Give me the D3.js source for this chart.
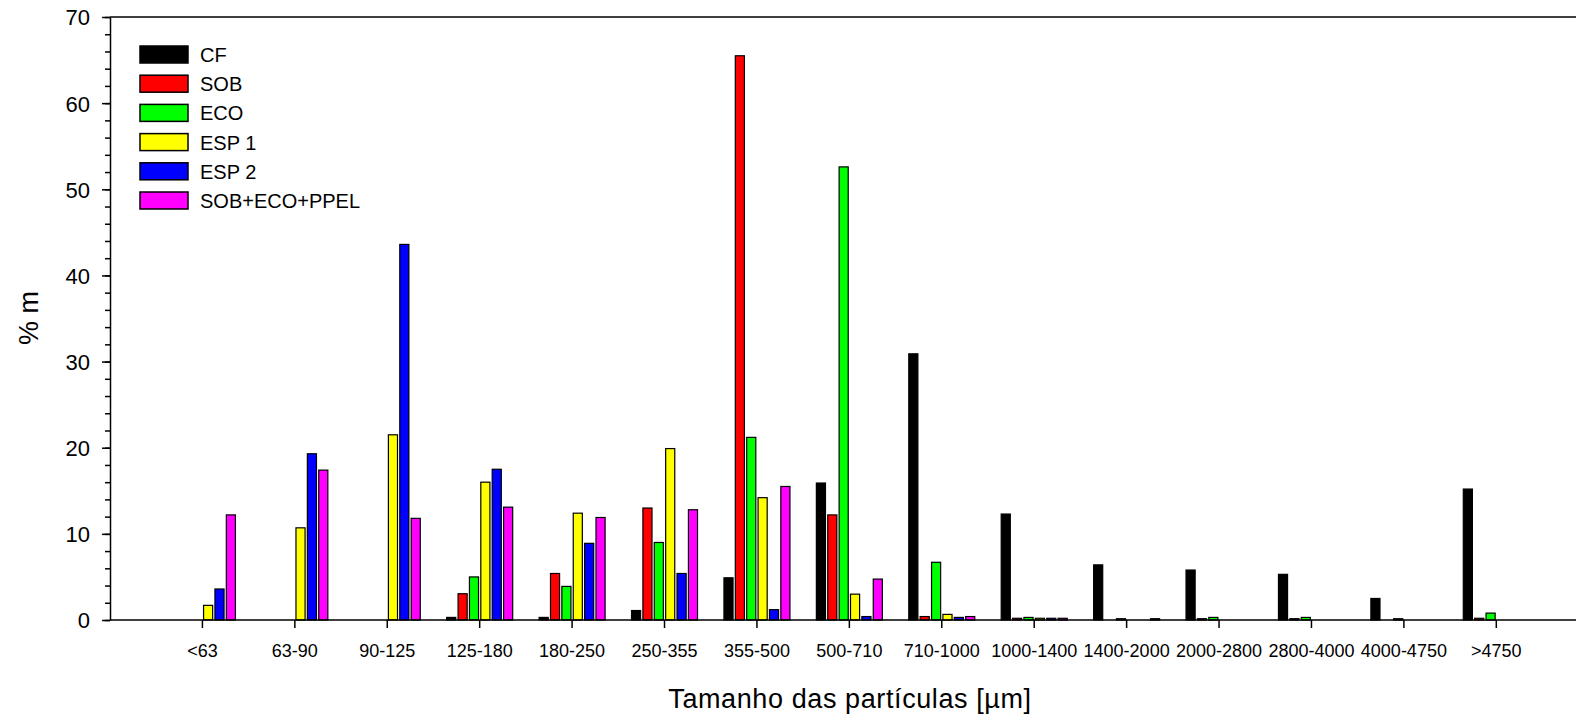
<!DOCTYPE html>
<html>
<head>
<meta charset="utf-8">
<script src="https://cdn.jsdelivr.net/npm/d3@7"></script>
<style>
    body { margin: 0; background: #fff; }
    svg { display: block; font-family: "Liberation Sans", Arial, sans-serif; }
    .axis path, .axis line { stroke: #000; stroke-width: 1.5; }
    .axis text { fill: #000; }
</style>
</head>
<body>
<div id="chart-container"></div>
<script>
// data
const categories = ["<63", "63-90", "90-125", "125-180", "180-250", "250-355", "355-500", "500-710",
    "710-1000", "1000-1400", "1400-2000", "2000-2800", "2800-4000", "4000-4750", ">4750"];
const seriesNames = ["CF", "SOB", "ECO", "ESP 1", "ESP 2", "SOB+ECO+PPEL"];
const seriesColors = ["#000000", "#ff0000", "#00ff00", "#ffff00", "#0000ff", "#ff00ff"];

// null = no bar drawn
const cfValues =   [null, null, null, 0.3, 0.3, 1.1, 4.9, 15.9, 30.9, 12.3, 6.4, 5.8, 5.3, 2.5, 15.2];
const sobValues =  [null, null, null, 3.05, 5.4, 13.0, 65.5, 12.2, 0.4, 0.2, null, 0.15, 0.15, null, 0.2];
const ecoValues =  [null, null, null, 5.0, 3.9, 9.0, 21.2, 52.6, 6.7, 0.3, 0.15, 0.3, 0.3, 0.15, 0.8];
const esp1Values = [1.7, 10.7, 21.5, 16.0, 12.4, 19.9, 14.2, 3.0, 0.65, 0.2, null, null, null, null, null];
const esp2Values = [3.6, 19.3, 43.6, 17.5, 8.9, 5.4, 1.2, 0.4, 0.3, 0.2, null, null, null, null, null];
const mixValues =  [12.2, 17.4, 11.8, 13.1, 11.9, 12.8, 15.5, 4.75, 0.4, 0.2, 0.15, null, null, null, null];

const yTicks = [0, 10, 20, 30, 40, 50, 60, 70];

// margin convention
const svgWidth = 1576,
    svgHeight = 721,
    margin = { top: 17, right: 0, bottom: 101, left: 110 },
    width = svgWidth - margin.left - margin.right,
    height = svgHeight - margin.top - margin.bottom;

const allSeries = [cfValues, sobValues, ecoValues, esp1Values, esp2Values, mixValues];

let svg = d3.select("#chart-container").append("svg")
    .attr("width", svgWidth)
    .attr("height", svgHeight);
let plotGroup = svg.append("g")
    .attr("transform", `translate(${margin.left}, ${margin.top})`);

// scales: one empty slot before the first group
const step = 92.42;
let xScale = d3.scaleBand()
    .domain(categories)
    .range([step / 2, step / 2 + step * categories.length])
    .padding(0);
let xSubScale = d3.scaleBand()
    .domain(seriesNames)
    .range([0, 66])
    .paddingInner(0.2);
let yScale = d3.scaleLinear()
    .domain([0, 70])
    .range([height, 0]);

// top frame line
plotGroup.append("line")
    .attr("x1", 0).attr("x2", width)
    .attr("y1", 0).attr("y2", 0)
    .attr("stroke", "#000")
    .attr("stroke-width", 1.5);

// bars
let barData = [];
categories.forEach((cat, i) => {
    allSeries.forEach((vals, s) => {
        if (vals[i] != null) barData.push({ cat: cat, series: seriesNames[s], color: seriesColors[s], value: vals[i] });
    });
});

plotGroup.selectAll("rect.bar")
    .data(barData)
    .join("rect")
    .attr("class", "bar")
    .attr("x", (d) => xScale(d.cat) + xScale.bandwidth() / 2 - 33 + xSubScale(d.series))
    .attr("y", (d) => yScale(d.value))
    .attr("width", xSubScale.bandwidth())
    .attr("height", (d) => height - yScale(d.value))
    .attr("fill", (d) => d.color)
    .attr("stroke", "#000")
    .attr("stroke-width", 1.2);

// minor y ticks
plotGroup.append("g")
    .attr("class", "axis")
    .call(d3.axisLeft(yScale).tickValues(d3.range(0, 71, 2)).tickSize(5).tickFormat(""))
    .call((g) => g.select(".domain").remove());

// y axis
let yAxis = plotGroup.append("g")
    .attr("class", "axis")
    .call(d3.axisLeft(yScale).tickValues(yTicks).tickSize(8).tickSizeOuter(0).tickPadding(12));
yAxis.selectAll("text")
    .style("font-size", "22px")
    .attr("dy", "0.36em");

// x axis
let xAxis = plotGroup.append("g")
    .attr("class", "axis")
    .attr("transform", `translate(0, ${height})`)
    .call(d3.axisBottom(xScale).tickSize(8).tickSizeOuter(0).tickPadding(16));
xAxis.select(".domain").attr("d", `M0,0H${width}`);
xAxis.selectAll("text")
    .style("font-size", "18px");

// axis labels
svg.append("text")
    .attr("transform", `translate(${margin.left + 740}, 708)`)
    .attr("text-anchor", "middle")
    .style("font-size", "27px")
    .style("letter-spacing", "0.6px")
    .text("Tamanho das partículas [µm]");
svg.append("text")
    .attr("transform", `translate(38, 318) rotate(-90)`)
    .attr("text-anchor", "middle")
    .style("font-size", "27px")
    .text("% m");

// legend
let legend = svg.append("g")
    .attr("transform", "translate(140, 46)");
let legendRows = legend.selectAll("g")
    .data(seriesNames)
    .join("g")
    .attr("transform", (d, i) => `translate(0, ${i * 29.2})`);
legendRows.append("rect")
    .attr("width", 48)
    .attr("height", 17)
    .attr("fill", (d, i) => seriesColors[i])
    .attr("stroke", "#000")
    .attr("stroke-width", 1.5);
legendRows.append("text")
    .attr("x", 60)
    .attr("y", 16)
    .style("font-size", "20px")
    .text((d) => d);
</script>
</body>
</html>
